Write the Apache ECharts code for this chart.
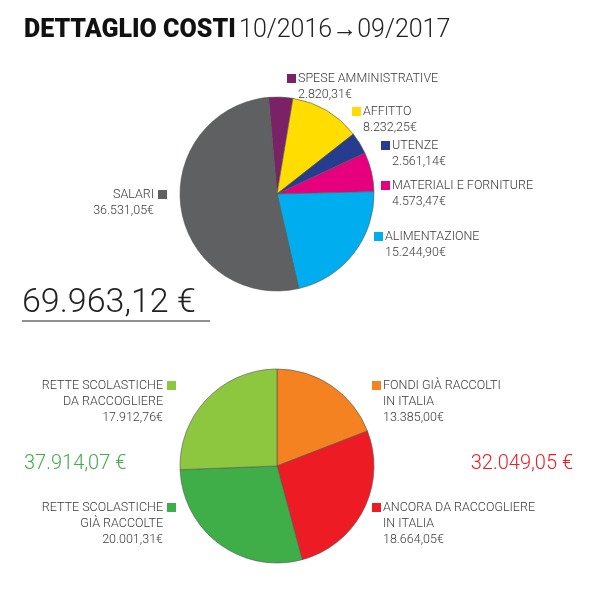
<!DOCTYPE html>
<html><head><meta charset="utf-8">
<script src="https://cdn.jsdelivr.net/npm/echarts@6/dist/echarts.min.js"></script>
<style>html,body{margin:0;background:#fff}#c{width:595px;height:595px}</style>
</head><body><div id="c"></div>
<script>
const costNames = ['SPESE AMMINISTRATIVE','AFFITTO','UTENZE','MATERIALI E FORNITURE','ALIMENTAZIONE','SALARI'];
const costValues = [2820.31, 8232.25, 2561.14, 4573.47, 15244.90, 36531.05];
const costLabels = ['2.820,31€','8.232,25€','2.561,14€','4.573,47€','15.244,90€','36.531,05€'];
const costColors = ['#7b2266','#ffdd00','#253c8f','#e6007e','#00aeef','#5f6062'];
const fundNames = ['FONDI GIÀ RACCOLTI|IN ITALIA','ANCORA DA RACCOGLIERE|IN ITALIA','RETTE SCOLASTICHE|GIÀ RACCOLTE','RETTE SCOLASTICHE|DA RACCOGLIERE'];
const fundValues = [13385.00, 18664.05, 20001.31, 17912.76];
const fundLabels = ['13.385,00€','18.664,05€','20.001,31€','17.912,76€'];
const fundColors = ['#f58220','#ed1c24','#3fae49','#8dc63f'];
const totalCost = '69.963,12 €', totalRette = '37.914,07 €', totalItalia = '32.049,05 €';

// label layout: [squareX, y, side] side: 1 = text right of square, -1 = text left
const costLayout = [[287,79,1],[352,112,1],[381,146,1],[381,186,1],[374,237,1],[158,195,-1]];
const fundLayout = [[372,386,1],[372,508,1],[167,508,-1],[167,386,-1]];
const F = 'Roboto, "Liberation Sans", sans-serif';
const txtStyle = {fontFamily:F, fontWeight:300, fontSize:12.5, fill:'#3a3a3a'};
const graphic = [];
function addLabel(lines, color, lay) {
  const [sx, y, side] = lay;
  graphic.push({type:'rect', shape:{x:sx, y:y-5, width:9, height:9}, style:{fill:color}});
  lines.forEach((t,i)=>{
    graphic.push({type:'text', x: side>0 ? sx+11 : sx-4, y: y + i*16,
      style:Object.assign({}, txtStyle, {text:t, textAlign: side>0?'left':'right', textVerticalAlign:'middle'})});
  });
}
costNames.forEach((n,i)=>addLabel([n, costLabels[i]], costColors[i], costLayout[i]));
fundNames.forEach((n,i)=>addLabel(n.split('|').concat([fundLabels[i]]), fundColors[i], fundLayout[i]));
graphic.push({type:'text', left:24, top:18, style:{text:'{b|DETTAGLIO COSTI} {l|10/2016→09/2017}', rich:{
  b:{fontFamily:F, fontWeight:900, fontSize:25, fill:'#111'}, l:{fontFamily:F, fontWeight:300, fontSize:25, fill:'#222'}}}});
graphic.push({type:'text', x:22, y:303, style:{text:totalCost, fontFamily:F, fontWeight:300, fontSize:34, fill:'#222', textVerticalAlign:'middle'}});
graphic.push({type:'line', shape:{x1:22, y1:321, x2:210, y2:321}, style:{stroke:'#222', lineWidth:1}});
graphic.push({type:'text', x:24, y:464, style:{text:totalRette, fontFamily:F, fontWeight:300, fontSize:20, fill:'#3fae49', textVerticalAlign:'middle'}});
graphic.push({type:'text', x:573, y:464, style:{text:totalItalia, fontFamily:F, fontWeight:300, fontSize:20, fill:'#ed1c24', textAlign:'right', textVerticalAlign:'middle'}});

const chart = echarts.init(document.getElementById('c'));
const pie = (names, vals, cols, center, start) => ({
  type:'pie', center, radius:97, startAngle:start, clockwise:true, animation:false,
  label:{show:false}, labelLine:{show:false}, silent:true,
  itemStyle:{borderColor:'#555', borderWidth:0.6},
  data: vals.map((v,i)=>({name:names[i], value:v, itemStyle:{color:cols[i]}}))
});
chart.setOption({
  animation:false,
  series:[pie(costNames, costValues, costColors, [277,194], 95),
          pie(fundNames, fundValues, fundColors, [277,466], 90)],
  graphic
});
</script></body></html>
